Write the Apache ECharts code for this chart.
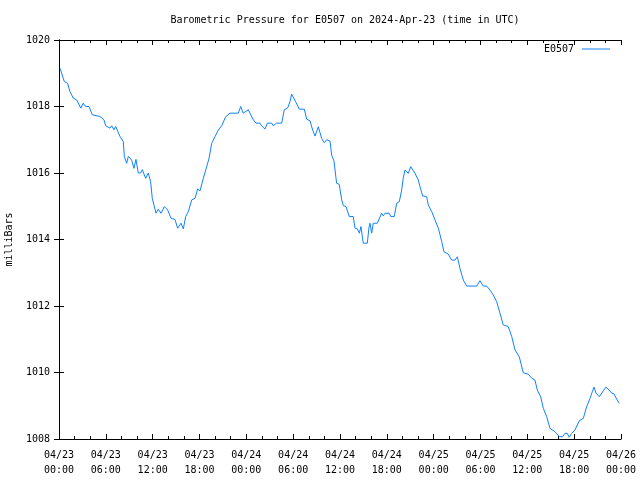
<!DOCTYPE html>
<html>
<head>
<meta charset="utf-8">
<script src="https://cdn.jsdelivr.net/npm/echarts@6/dist/echarts.min.js"></script>
<style>html,body{margin:0;padding:0;background:#fff}#c{width:640px;height:480px}</style>
</head>
<body>
<div id="c"></div>
<script>
const titleText = 'Barometric Pressure for E0507 on 2024-Apr-23 (time in UTC)';
const seriesName = 'E0507';
const yAxisName = 'milliBars';
const xTickDates = ['04/23','04/23','04/23','04/23','04/24','04/24','04/24','04/24','04/25','04/25','04/25','04/25','04/26'];
const xTickTimes = ['00:00','06:00','12:00','18:00','00:00','06:00','12:00','18:00','00:00','06:00','12:00','18:00','00:00'];
// hours since 04/23 00:00 UTC
const hours = [0.13,0.68,1.1,1.4,1.84,2.26,2.8,3.1,3.4,3.84,4.27,5.25,5.76,5.98,6.53,6.75,7.05,7.26,7.81,8.24,8.37,8.67,8.88,9.31,9.6,9.86,10.16,10.46,10.67,11.1,11.44,11.74,11.95,12.43,12.72,13.07,13.5,13.92,14.35,14.86,15.2,15.63,15.93,16.23,16.57,17.0,17.42,17.77,18.06,18.49,18.92,19.22,19.56,19.98,20.41,20.84,21.35,21.9,22.97,23.28,23.6,24.25,24.9,25.24,25.75,25.96,26.39,26.69,27.25,27.46,27.88,28.53,28.86,29.3,29.59,29.81,30.02,30.32,30.45,30.79,31.43,31.73,32.16,32.5,32.8,33.22,33.65,33.99,34.29,34.72,34.93,35.23,35.49,35.57,35.9,36.22,36.42,36.77,37.19,37.7,37.92,38.22,38.48,38.69,38.9,38.99,39.5,39.71,39.84,40.06,40.26,40.78,41.34,41.55,41.76,42.31,42.5,42.95,43.26,43.6,43.9,44.1,44.32,44.54,44.75,45.06,45.31,45.61,46.03,46.25,46.59,47.1,47.31,47.75,48.17,48.6,49.03,49.32,49.87,50.31,50.73,51.03,51.37,51.8,52.23,53.51,53.93,54.36,54.79,55.21,55.64,56.07,56.5,56.92,57.56,58.0,58.42,58.97,59.48,60.12,60.56,60.98,61.28,61.71,62.05,62.48,62.9,63.54,64.1,64.52,64.82,65.12,65.37,65.68,66.1,66.66,67.17,67.6,68.03,68.32,68.54,68.8,69.22,69.73,70.07,70.5,70.8,71.1,71.44,71.78];
const pressure = [1019.15,1018.75,1018.7,1018.45,1018.25,1018.2,1017.95,1018.1,1018.0,1018.0,1017.75,1017.7,1017.6,1017.42,1017.35,1017.42,1017.3,1017.4,1017.1,1016.94,1016.5,1016.29,1016.5,1016.39,1016.14,1016.41,1016.0,1016.0,1016.1,1015.84,1016.0,1015.74,1015.24,1014.79,1014.91,1014.79,1014.99,1014.89,1014.64,1014.6,1014.34,1014.49,1014.32,1014.69,1014.84,1015.19,1015.24,1015.52,1015.46,1015.84,1016.19,1016.44,1016.89,1017.09,1017.29,1017.42,1017.69,1017.8,1017.8,1018.0,1017.8,1017.9,1017.6,1017.5,1017.5,1017.42,1017.32,1017.5,1017.5,1017.42,1017.5,1017.5,1017.9,1017.96,1018.14,1018.37,1018.43,1018.14,1018.2,1017.92,1017.92,1017.62,1017.57,1017.29,1017.11,1017.39,1017.04,1016.91,1017.0,1016.96,1016.54,1016.36,1015.84,1015.69,1015.66,1015.19,1015.02,1014.99,1014.69,1014.69,1014.34,1014.32,1014.19,1014.39,1014.02,1013.89,1013.89,1014.36,1014.49,1014.19,1014.49,1014.49,1014.79,1014.71,1014.79,1014.79,1014.69,1014.69,1015.09,1015.14,1015.49,1015.84,1016.09,1016.12,1015.99,1016.19,1016.19,1015.99,1015.79,1015.59,1015.31,1015.29,1015.04,1014.84,1014.59,1014.34,1013.94,1013.63,1013.56,1013.38,1013.38,1013.48,1013.13,1012.78,1012.6,1012.6,1012.76,1012.6,1012.6,1012.48,1012.33,1012.13,1011.78,1011.43,1011.38,1011.08,1010.68,1010.47,1009.99,1009.95,1009.83,1009.77,1009.47,1009.27,1008.92,1008.67,1008.32,1008.22,1008.07,1008.07,1008.17,1008.17,1008.05,1008.17,1008.27,1008.55,1008.62,1008.97,1009.22,1009.42,1009.56,1009.38,1009.27,1009.45,1009.56,1009.47,1009.38,1009.36,1009.2,1009.07];

const FONT = 'DejaVu Sans Mono';
const data = hours.map((h, i) => [h, pressure[i]]);
const chart = echarts.init(document.getElementById('c'), null, {renderer: 'canvas'});
const baseX = {
  type: 'value', min: 0, max: 72, interval: 6,
  axisLine: {show: true, lineStyle: {color: '#000', width: 1}},
  axisTick: {show: true, inside: true, length: 5, lineStyle: {color: '#000'}},
  minorTick: {show: true, splitNumber: 3, length: 3, lineStyle: {color: '#000'}},
  splitLine: {show: false}
};
const baseY = {
  type: 'value', min: 1008, max: 1020, interval: 2,
  axisLine: {show: true, lineStyle: {color: '#000', width: 1}},
  axisTick: {show: true, inside: true, length: 5, lineStyle: {color: '#000'}},
  splitLine: {show: false}
};
chart.setOption({
  animation: false,
  backgroundColor: '#fff',
  title: {
    text: titleText, left: 340, top: 10, textAlign: 'center',
    textStyle: {fontFamily: FONT, fontSize: 10, fontWeight: 'normal', color: '#000'}
  },
  legend: {
    data: [{name: seriesName, icon: 'rect'}], right: 30, top: 44, align: 'right', padding: 0,
    itemWidth: 28, itemHeight: 1, itemGap: 5,
    textStyle: {fontFamily: FONT, fontSize: 10, color: '#000', padding: [0, 3, 0, 0]}
  },
  grid: {left: 59, right: 19, top: 40, bottom: 41, containLabel: false, outerBoundsMode: 'none'},
  xAxis: [
    Object.assign({}, baseX, {
      position: 'bottom',
      axisLabel: {
        show: true, margin: 9, lineHeight: 15, color: '#000', fontFamily: FONT, fontSize: 10,
        formatter: v => { const i = Math.round(v / 6); return xTickDates[i] + '\n' + xTickTimes[i]; }
      }
    }),
    Object.assign({}, baseX, {position: 'top', axisLabel: {show: false}})
  ],
  yAxis: [
    Object.assign({}, baseY, {
      position: 'left',
      name: yAxisName, nameLocation: 'middle', nameGap: 45,
      nameTextStyle: {fontFamily: FONT, fontSize: 10, color: '#000'},
      axisLabel: {show: true, margin: 9, color: '#000', fontFamily: FONT, fontSize: 10, formatter: v => String(v)}
    }),
    Object.assign({}, baseY, {position: 'right', axisLabel: {show: false}})
  ],
  series: [{
    name: seriesName, type: 'line', data: data,
    xAxisIndex: 0, yAxisIndex: 0,
    symbol: 'none', showSymbol: false,
    lineStyle: {color: '#1080ff', width: 1},
    itemStyle: {color: '#1080ff'}
  }]
});
</script>
</body>
</html>
